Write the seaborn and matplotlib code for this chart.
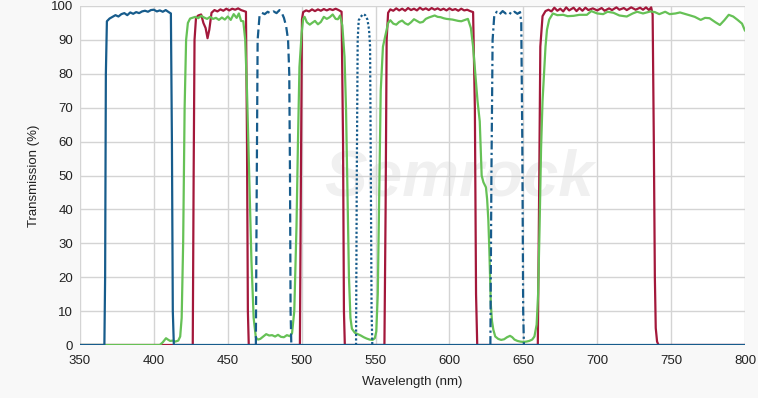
import matplotlib
matplotlib.use('Agg')
import matplotlib.pyplot as plt
import seaborn as sns

# ---- data (wavelength nm, transmission %) ----
# excitation filters (blue)
ex1_wl = [350, 366.5, 367.0, 367.5, 368.2, 370, 372, 374, 376, 378, 380, 382, 384, 386, 388, 390,
          392, 394, 396, 398, 400, 402, 404, 406, 408, 410, 411.5, 412.2, 412.8, 413.5, 800]
ex1_T = [0, 0, 20, 80, 95.5, 96.3, 96.8, 97.3, 96.9, 97.6, 97.9, 97.3, 98.1, 97.7, 98.2, 97.9,
         98.4, 98.6, 98.3, 98.8, 98.9, 98.4, 98.7, 98.3, 98.8, 98.2, 97.8, 60, 10, 0, 0]

ex2_wl = [469, 469.5, 470.2, 471.5, 473, 475, 477, 479, 481, 483, 485, 486.5, 488, 489.5,
          490.8, 491.6, 492.1, 492.5, 493]
ex2_T = [0, 40, 90, 97.2, 98, 97.6, 98.3, 97.8, 98.4, 97.9, 98.8, 98.0, 96.5, 94,
         90, 80, 50, 10, 0]

ex3_wl = [536.8, 537.3, 537.9, 538.6, 540, 541.5, 543, 544.5, 545.6, 546.3, 546.8, 547.3, 547.8]
ex3_T = [0, 50, 90, 95.8, 96.8, 97.6, 97.3, 96, 93, 88, 50, 10, 0]

ex4_wl = [627.7, 628.4, 629.2, 630.3, 632, 634, 636, 638, 640, 642, 644, 646, 647.8, 648.6,
          649.3, 649.9, 650.4]
ex4_T = [0, 50, 90, 97, 98.3, 97.6, 98.5, 97.8, 98.2, 97.6, 98.3, 97.7, 98.2, 95,
         60, 10, 0]

# emission filter (red)
em_wl = [350, 426.3, 426.9, 427.5, 428.5, 430, 432, 433.5, 435, 436.3, 437.5, 439, 441, 443, 445,
         447, 449, 451, 453, 455, 457, 459, 461, 462.3, 463, 463.6, 464.2,
         498.8, 499.5, 500.2, 501, 503, 505, 507, 509, 511, 513, 515, 517, 519, 521, 523, 525, 527,
         528, 528.6, 529.2,
         556, 556.8, 557.5, 558.5, 560, 562, 564, 566, 568, 570, 572, 574, 576, 578, 580, 582, 584,
         586, 588, 590, 592, 594, 596, 598, 600, 602, 604, 606, 608, 610, 612, 614, 616, 617.2,
         618, 618.8,
         659.8, 660.6, 661.5, 663, 665, 667, 669, 671, 673, 675, 677, 679, 681, 684, 686, 688, 690,
         692, 694, 697, 700, 703, 705, 708, 710, 713, 715, 718, 720, 723, 726, 729, 731, 733, 735,
         736.5, 737.5, 738.3, 739, 739.6, 740.5, 741.5, 800]
em_T = [0, 0, 50, 90, 96.5, 97.2, 97.5, 95, 93.5, 90.5, 93, 98, 98.8, 98.4, 99,
        98.6, 99.2, 98.7, 99.2, 98.9, 99.3, 98.8, 98.5, 98.3, 60, 10, 0,
        0, 50, 96, 98.2, 98.7, 98.4, 99, 98.5, 99, 98.6, 99.1, 98.7, 99.1, 98.8, 99.2, 98.8, 98.3,
        60, 10, 0,
        0, 40, 90, 98, 99, 98.6, 99.3, 98.7, 99.2, 98.6, 99.4, 98.8, 99.2, 98.7, 99.5, 98.9, 99.3,
        98.8, 99.4, 98.9, 99.3, 98.8, 99.2, 98.7, 99.3, 98.8, 99.1, 98.6, 99.2, 98.7, 98.9, 98.5,
        98.2, 70, 15, 0,
        0, 40, 88, 97, 98.5, 98.9, 98.4, 99.5, 98.6, 99.2, 98.4, 99.6, 98.7, 99.5, 98.5, 99.4, 98.6,
        99.5, 98.8, 99.3, 98.7, 99.4, 98.6, 99.3, 98.8, 99.6, 98.9, 99.4, 98.8, 99.6, 98.9, 99.5,
        98.9, 99.6, 98.8, 99.6, 97.5, 60, 20, 5, 1, 0, 0]

# dichroic (green)
di_wl = [350, 404, 406, 408.2, 409.5, 411, 413, 414.5, 416.5, 417.8, 418.8, 419.8, 420.8, 421.8,
         423, 424.5, 426, 428, 430, 432, 434, 436, 438, 440, 442, 444, 446, 448, 450, 452, 454, 456,
         457.5, 459, 460.5, 461.8, 463, 464.5, 466, 467.5, 469, 470.5, 472, 474, 476, 478, 480, 482,
         484, 486, 488, 490, 492, 493.5, 495, 496.5, 497.5, 498.5, 500, 501, 502, 503.5, 505.5, 507,
         509, 511, 513, 515, 517, 519, 521, 523, 524.5, 526, 527.5, 529, 530, 531, 532, 533, 534,
         536, 538, 540, 542, 544, 546, 548, 549.5, 550.5, 551.5, 552.5, 553.5, 555, 557, 558.5, 560,
         562, 564, 566, 568, 570, 572, 574, 576, 578, 580, 582, 584, 586, 588, 590, 592, 594, 596,
         598, 600, 602, 604, 606, 608, 610, 612.5, 614.5, 616, 617.5, 619, 620.5, 621.8, 623, 624.7,
         625.5, 626.3, 627, 627.5, 628, 628.8, 629.7, 631, 633, 635, 637, 639, 641, 642.5, 644, 646,
         648, 650, 652, 654, 656, 657.5, 659, 660, 661, 662, 663, 664, 665, 666, 667.5, 670, 673,
         677, 680, 684, 688, 693, 696, 700, 704, 707, 711, 715, 720, 724, 727, 731, 736, 739, 742,
         746, 749, 753, 756, 760, 763, 766, 770, 773, 776, 780, 783, 786, 789, 792, 795, 798, 800]
di_T = [0, 0, 0.8, 2.0, 1.6, 1.2, 1.3, 1.0, 1.3, 2.5, 8, 30, 70, 90,
        95, 96.3, 96.5, 96.8, 96.4, 97.1, 96.6, 96.2, 96.8, 96.2, 96.5, 95.9, 96.6, 96.0, 96.9, 95.9, 97.6, 96.5,
        97.8, 95.6, 95.5, 90, 75, 50, 25, 8, 2.2, 1.6, 1.8, 2.5, 3.2, 2.8, 2.9, 2.5,
        3.0, 2.4, 2.3, 2.9, 2.6, 3.5, 10, 35, 60, 82, 92, 96.2, 96.8, 95.2, 94.5, 95,
        95.6, 94.6, 95.3, 96.8, 96.2, 96.7, 97.5, 96.2, 96.1, 97.2, 94.3, 85, 70, 45, 20, 8, 4.8,
        3.6, 3.2, 2.8, 2.3, 1.9, 1.6, 1.5, 2, 4, 15, 45, 75, 88, 92, 95, 95.8,
        94.8, 94.5, 95.3, 95.7, 94.9, 94.5, 95.2, 96.1, 95.6, 95.1, 95.3, 96.2, 96.6, 96.9, 97.2, 96.8, 96.7, 96.4,
        96.2, 96.1, 96.0, 95.8, 95.6, 95.5, 95.8, 96.2, 93.5, 88, 80, 72, 66, 50, 48, 46.5,
        43, 37, 28, 20, 12, 7, 4.5, 2.5, 1.8, 1.5, 1.7, 2.3, 2.7, 2.3, 1.6, 1.2,
        1.0, 0.9, 1.0, 1.2, 1.6, 2.5, 6, 15, 35, 58, 72, 80, 88, 93, 96, 97.8, 97.3,
        97.4, 97.0, 97.1, 97.4, 97.4, 98.5, 97.8, 97.6, 98.3, 98.0, 97.2, 96.9, 97.8, 98.3, 97.8, 98.4, 98.2, 97.6,
        98.3, 97.6, 97.8, 98.1, 97.6, 97.2, 96.8, 95.9, 96.5, 96.4, 95.2, 94.4, 95.8, 97.4, 96.9, 95.9, 94.8, 92.7]

x_ticks = [350, 400, 450, 500, 550, 600, 650, 700, 750, 800]
y_ticks = [0, 10, 20, 30, 40, 50, 60, 70, 80, 90, 100]

blue = '#175c8c'
red = '#a3183b'
green = '#66c156'

sns.set_theme(style='whitegrid')
plt.rcParams['font.family'] = ['Liberation Sans', 'DejaVu Sans']

fig = plt.figure(figsize=(7.58, 3.98), dpi=100, facecolor='#f8f8f8')
ax = fig.add_axes([80 / 758, 1 - 345 / 398, 665 / 758, 339 / 398])
ax.set_facecolor('white')

# watermark
ax.text(0.57, 0.49, 'Semrock', transform=ax.transAxes, fontsize=46, fontstyle='italic',
        fontweight='bold', color='#000000', alpha=0.06, ha='center', va='center', zorder=0)

lw = 1.6
sns.lineplot(x=em_wl, y=em_T, color=red, linewidth=lw, sort=False, estimator=None, ax=ax)
sns.lineplot(x=di_wl, y=di_T, color=green, linewidth=lw, sort=False, estimator=None, ax=ax)
sns.lineplot(x=ex2_wl, y=ex2_T, color=blue, linewidth=lw, linestyle=(0, (4, 2)), sort=False, estimator=None, ax=ax)
sns.lineplot(x=ex3_wl, y=ex3_T, color=blue, linewidth=lw, linestyle=(0, (1, 1)), sort=False, estimator=None, ax=ax)
sns.lineplot(x=ex4_wl, y=ex4_T, color=blue, linewidth=lw, linestyle=(0, (4, 1.5, 1, 1.5)), sort=False, estimator=None, ax=ax)
sns.lineplot(x=ex1_wl, y=ex1_T, color=blue, linewidth=lw, sort=False, estimator=None, ax=ax)

ax.set_xlim(350, 800)
ax.set_ylim(0, 100)
ax.set_xticks(x_ticks)
ax.set_yticks(y_ticks)
ax.grid(True, color='#d4d4d4', linewidth=1)
for s in ax.spines.values():
    s.set_visible(False)
ax.tick_params(axis='x', length=0, labelsize=9.5, colors='#222222', pad=7)
ax.tick_params(axis='y', length=0, labelsize=9.5, colors='#222222', pad=5)

ax.set_xlabel('Wavelength (nm)', fontsize=9.5, color='#222222', labelpad=7)
ax.set_ylabel('Transmission (%)', fontsize=9.5, color='#222222', labelpad=8)

fig.savefig('out.png', dpi=100, facecolor=fig.get_facecolor())
